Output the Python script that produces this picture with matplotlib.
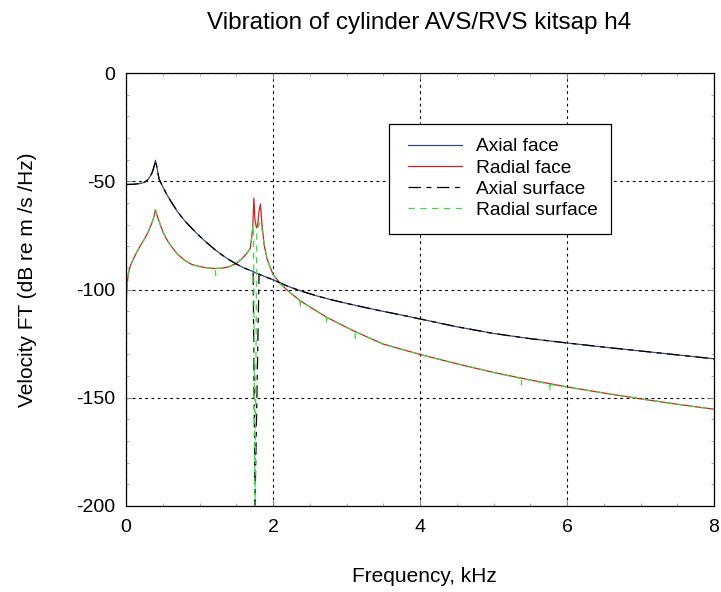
import matplotlib
matplotlib.use("Agg")
import matplotlib.pyplot as plt
from matplotlib.ticker import MultipleLocator
from matplotlib.patches import Rectangle

plt.rcParams['font.family'] = ['Liberation Sans', 'DejaVu Sans']
plt.rcParams['lines.scale_dashes'] = False
plt.rcParams['axes.unicode_minus'] = False

# ---- data (frequency in kHz, level in dB re m/s/Hz) ----
f_axial_face = [0, 0.1, 0.2, 0.25, 0.3, 0.35, 0.38, 0.4, 0.42, 0.45, 0.5, 0.55, 0.6, 0.7, 0.8,
                0.9, 1.0, 1.1, 1.2, 1.3, 1.4, 1.5, 1.6, 1.7, 1.8, 1.9, 2.0, 2.2, 2.4, 2.6, 2.8,
                3.0, 3.25, 3.5, 3.75, 4.0, 4.5, 5.0, 5.5, 6.0, 6.5, 7.0, 7.5, 8.0]
v_axial_face = [-51.5, -51.4, -51.0, -50.5, -49.2, -46.5, -43.5, -40.3, -43.5, -49.0, -52.5, -55.8,
                -58.7, -64.0, -68.3, -71.9, -75.3, -78.4, -81.3, -83.9, -86.2, -88.2, -90.0, -91.3,
                -92.8, -94.2, -95.5, -98.5, -100.9, -103.0, -104.8, -106.4, -108.3, -110.1, -111.8,
                -113.6, -117.2, -120.3, -122.7, -124.7, -126.6, -128.4, -130.2, -132.0]

f_axial_surface = [0, 0.1, 0.2, 0.25, 0.3, 0.35, 0.38, 0.4, 0.42, 0.45, 0.5, 0.55, 0.6, 0.7, 0.8,
                   0.9, 1.0, 1.1, 1.2, 1.3, 1.4, 1.5, 1.6, 1.7, 1.73, 1.755, 1.81, 1.9, 2.0, 2.2,
                   2.4, 2.6, 2.8, 3.0, 3.25, 3.5, 3.75, 4.0, 4.5, 5.0, 5.5, 6.0, 6.5, 7.0, 7.5, 8.0]
v_axial_surface = [-51.5, -51.4, -51.0, -50.5, -49.2, -46.5, -43.5, -40.3, -43.5, -49.0, -52.5,
                   -55.8, -58.7, -64.0, -68.3, -71.9, -75.3, -78.4, -81.3, -83.9, -86.2, -88.2,
                   -90.0, -91.3, -91.8, -200.0, -92.9, -94.2, -95.5, -98.5, -100.9, -103.0, -104.8,
                   -106.4, -108.3, -110.1, -111.8, -113.6, -117.2, -120.3, -122.7, -124.7, -126.6,
                   -128.4, -130.2, -132.0]

f_radial_face = [0, 0.01, 0.03, 0.06, 0.1, 0.15, 0.2, 0.25, 0.3, 0.35, 0.38, 0.4, 0.42, 0.45, 0.5,
                 0.55, 0.6, 0.7, 0.8, 0.9, 1.0, 1.1, 1.2, 1.3, 1.4, 1.5, 1.6, 1.65, 1.69, 1.71,
                 1.725, 1.74, 1.755, 1.775, 1.79, 1.81, 1.83, 1.85, 1.88, 1.92, 1.96, 2.0, 2.1,
                 2.2, 2.37, 2.5, 2.73, 3.0, 3.12, 3.5, 4.0, 4.5, 5.0, 5.5, 6.0, 6.5, 7.0, 7.5, 8.0]
v_radial_face = [-110, -100, -93, -89, -86, -82.5, -79.5, -76.8, -73.5, -69.5, -66.5, -63.2, -65.5,
                 -68.5, -73.2, -76.6, -79.4, -83.6, -86.6, -88.5, -89.4, -90.0, -90.3, -90.2, -89.5,
                 -88.0, -85.0, -83.0, -81.0, -76.0, -71.0, -57.8, -68.0, -71.5, -70.5, -64.0, -60.5,
                 -70.0, -79.5, -86.0, -89.5, -93.0, -97.3, -100.5, -105.2, -108.0, -112.8, -117.5,
                 -119.5, -125.2, -130.0, -134.3, -138.3, -141.8, -145.0, -147.8, -150.5, -153.0,
                 -155.3]

f_radial_surface = [0, 0.01, 0.03, 0.06, 0.1, 0.15, 0.2, 0.25, 0.3, 0.35, 0.38, 0.4, 0.42, 0.45,
                    0.5, 0.55, 0.6, 0.7, 0.8, 0.9, 1.0, 1.1, 1.2, 1.215, 1.22, 1.225, 1.3, 1.4,
                    1.5, 1.6, 1.65, 1.69, 1.71, 1.725, 1.735, 1.755, 1.78, 1.8, 1.82, 1.85, 1.88,
                    1.92, 1.96, 2.0, 2.1, 2.2, 2.365, 2.37, 2.375, 2.5, 2.725, 2.73, 2.735, 3.0,
                    3.115, 3.12, 3.125, 3.5, 4.0, 4.5, 5.0, 5.375, 5.38, 5.385, 5.5, 5.765, 5.77,
                    5.775, 6.0, 6.5, 7.0, 7.5, 8.0]
v_radial_surface = [-110, -100, -93, -89, -86, -82.5, -79.5, -76.8, -73.5, -69.5, -66.5, -63.2,
                    -65.5, -68.5, -73.2, -76.6, -79.4, -83.6, -86.6, -88.5, -89.4, -90.0, -90.3,
                    -90.3, -93.5, -90.3, -90.2, -89.5, -88.0, -85.0, -83.0, -81.0, -76.0, -71.0,
                    -70.0, -200.0, -72.5, -71.0, -69.0, -72.0, -79.5, -86.0, -89.5, -93.0, -97.3,
                    -100.5, -105.1, -108.5, -105.3, -108.0, -112.7, -116.0, -112.9, -117.5, -119.4,
                    -122.5, -119.6, -125.2, -130.0, -134.3, -138.3, -141.1, -144.0, -141.2, -141.8,
                    -143.8, -146.8, -143.9, -145.0, -147.8, -150.5, -153.0, -155.3]

labels = ['Axial face', 'Radial face', 'Axial surface', 'Radial surface']
x_ticks = [0, 2, 4, 6, 8]
y_ticks = [-200, -150, -100, -50, 0]

# ---- figure ----
W, H = 721, 592
fig = plt.figure(figsize=(W / 100, H / 100), dpi=100)
ax = fig.add_axes([126 / W, 1 - 506 / H, 588 / W, 433 / H])

lw = 0.9
ax.plot(f_axial_face, v_axial_face, color='#3a4785', lw=lw, label=labels[0])
ax.plot(f_radial_face, v_radial_face, color='#cc2222', lw=lw, label=labels[1])
ax.plot(f_axial_surface, v_axial_surface, color='black', lw=lw,
        linestyle=(0, (9, 4, 3.5, 4)), label=labels[2])
ax.plot(f_radial_surface, v_radial_surface, color='#3ddc3d', lw=lw,
        linestyle=(0, (4.5, 4)), label=labels[3])

ax.set_xlim(0, 8)
ax.set_ylim(-200, 0)
ax.set_xticks(x_ticks)
ax.set_yticks(y_ticks)
ax.xaxis.set_minor_locator(MultipleLocator(0.5))
ax.yaxis.set_minor_locator(MultipleLocator(10))
ax.tick_params(which='both', direction='in', top=True, right=True, color='0.55')
ax.tick_params(which='major', length=4, width=0.7, labelsize=14)
ax.tick_params(which='minor', length=2.5, width=0.5)
ax.tick_params(axis='x', pad=9)
ax.tick_params(axis='y', pad=8)

ax.grid(True, which='major', color='black', linestyle=(0, (2, 2.5)), linewidth=0.8)
for s in ax.spines.values():
    s.set_linewidth(0.9)
    s.set_color('black')

fig.text(419 / W, 1 - 23 / H, 'Vibration of cylinder AVS/RVS kitsap h4',
         ha='center', va='center', fontsize=17.5)
fig.text(424 / W, 1 - 577 / H, 'Frequency, kHz', ha='center', va='center', fontsize=15)
fig.text(28 / W, 1 - 280 / H, 'Velocity FT (dB re m /s /Hz)', ha='center', va='center',
         rotation=90, fontsize=15)

# legend frame drawn as a rectangle, contents placed inside
box = Rectangle((389 / W, 1 - 234 / H), 222 / W, 110 / H, transform=fig.transFigure,
                facecolor='white', edgecolor='black', linewidth=0.9, zorder=5)
fig.add_artist(box)
leg = ax.legend(loc='upper left', bbox_to_anchor=(408 / W, 1 - 138 / H),
                bbox_transform=fig.transFigure,
                fontsize=13.8, frameon=False, handlelength=2.8, labelspacing=0.2,
                borderpad=0, handletextpad=0.75, borderaxespad=0)
leg.set_zorder(6)
leg.remove()
fig.add_artist(leg)

fig.savefig('out.png', dpi=100)
